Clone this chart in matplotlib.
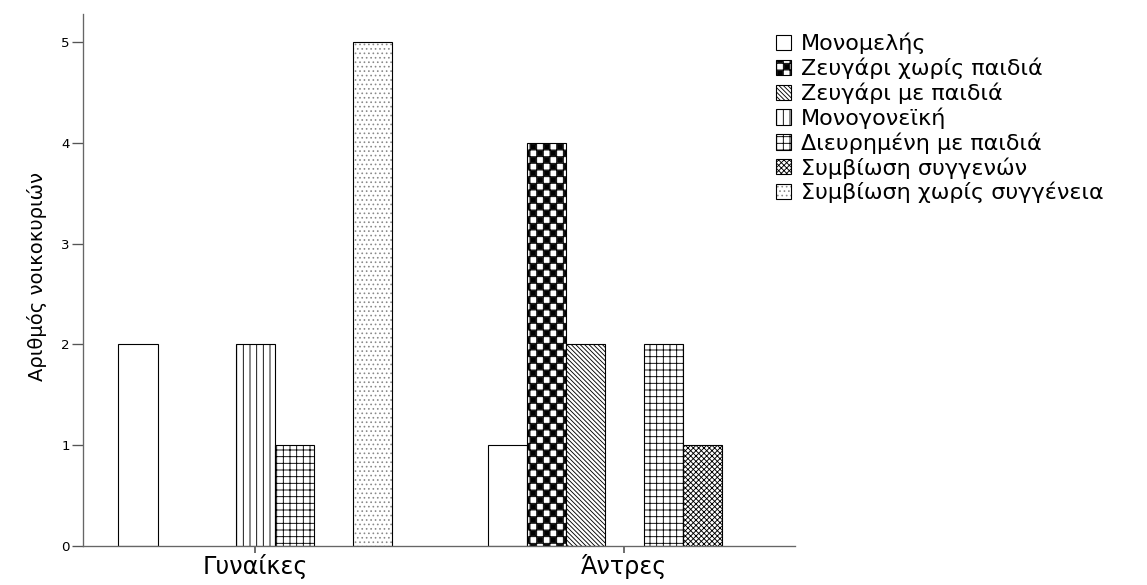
import warnings
import numpy as np
import matplotlib
matplotlib.use('Agg')
import matplotlib.pyplot as plt
import matplotlib.hatch as mhatch
from matplotlib.path import Path
from matplotlib.patches import Patch

warnings.filterwarnings('ignore', category=matplotlib.MatplotlibDeprecationWarning)

groups = ['Γυναίκες', 'Άντρες']
series = ['Μονομελής', 'Ζευγάρι χωρίς παιδιά', 'Ζευγάρι με παιδιά', 'Μονογονεϊκή',
          'Διευρημένη με παιδιά', 'Συμβίωση συγγενών', 'Συμβίωση χωρίς συγγένεια']
women = [2, 0, 0, 2, 1, 0, 5]
men = [1, 4, 2, 0, 2, 1, 0]
hatches = ['', 'cc++', '\\\\\\\\\\\\', '||', '++', 'xxxxx', '...']


class CheckerHatch(mhatch.HatchPatternBase):
    """Filled checkerboard squares, selected with the 'c' character.
    Cells are centred on i/n so that '+' lines fall on the cell borders."""

    def __init__(self, hatch, density):
        self.num_rows = int(hatch.count('c') * density)
        n = self.num_rows
        self.cells = [(i, j) for i in range(n + 1)
                      for j in range(n + 1) if (i + j) % 2 == 0] if n else []
        self.num_vertices = len(self.cells) * 5

    def set_vertices_and_codes(self, vertices, codes):
        step = 1.0 / self.num_rows
        h = 0.5 * step - 0.15 * step
        sq = np.array([[-h, -h], [h, -h], [h, h], [-h, h], [-h, -h]])
        kinds = [Path.MOVETO, Path.LINETO, Path.LINETO, Path.LINETO, Path.CLOSEPOLY]
        for k, (i, j) in enumerate(self.cells):
            vertices[k * 5:(k + 1) * 5] = sq + [i * step, j * step]
            codes[k * 5:(k + 1) * 5] = kinds


mhatch._hatch_types.append(CheckerHatch)

DPI = 80
plt.rcParams['hatch.linewidth'] = 0.8
plt.rcParams['font.family'] = ['DejaVu Sans']

fig = plt.figure(figsize=(1147 / DPI, 585 / DPI), dpi=DPI)
ax = fig.add_axes([0.0724, 0.0667, 0.6207, 0.9093])

x = np.arange(len(groups))
width = 0.1057
values = np.array([women, men])
for k, (name, h) in enumerate(zip(series, hatches)):
    pos = x + (k - (len(series) - 1) / 2) * width
    vals = values[:, k]
    keep = vals > 0
    if h == '...':
        ax.bar(pos[keep], vals[keep], width, color='white', edgecolor='#8a8a8a',
               linewidth=0, hatch=h)
        ax.bar(pos[keep], vals[keep], width, fill=False, edgecolor='black',
               linewidth=1.0)
    else:
        ax.bar(pos[keep], vals[keep], width, color='white', edgecolor='black',
               linewidth=1.0, hatch=h)

ax.set_xlim(-0.466, 1.463)
ax.set_ylim(0, 5.28)
ax.set_xticks(x)
ax.set_xticklabels(groups, fontsize=21.5)
ax.set_yticks(range(6))
ax.tick_params(axis='y', labelsize=12, length=10, width=1.2, color='#555555', pad=2)
ax.tick_params(axis='x', length=6, width=1.5, color='#555555', pad=1.5)
ax.set_ylabel('Αριθμός νοικοκυριών', fontsize=17.5)
ax.yaxis.set_label_coords(-0.05, 0.506)
for side in ['top', 'right']:
    ax.spines[side].set_visible(False)
for side in ['left', 'bottom']:
    ax.spines[side].set_color('#666666')
    ax.spines[side].set_linewidth(1.2)

handles = []
for name, h in zip(series, hatches):
    if h == '...':
        handles.append((Patch(facecolor='white', edgecolor='#8a8a8a', linewidth=0, hatch=h),
                        Patch(fill=False, edgecolor='black', linewidth=1.0)))
    else:
        handles.append(Patch(facecolor='white', edgecolor='black', linewidth=1.0, hatch=h))
fig.legend(handles, series, loc='upper left', bbox_to_anchor=(0.6684, 0.959),
           frameon=False, fontsize=20, handlelength=0.68, handleheight=0.68,
           handletextpad=0.45, labelspacing=0.15, borderaxespad=0)

fig.savefig('out.png', dpi=DPI)
